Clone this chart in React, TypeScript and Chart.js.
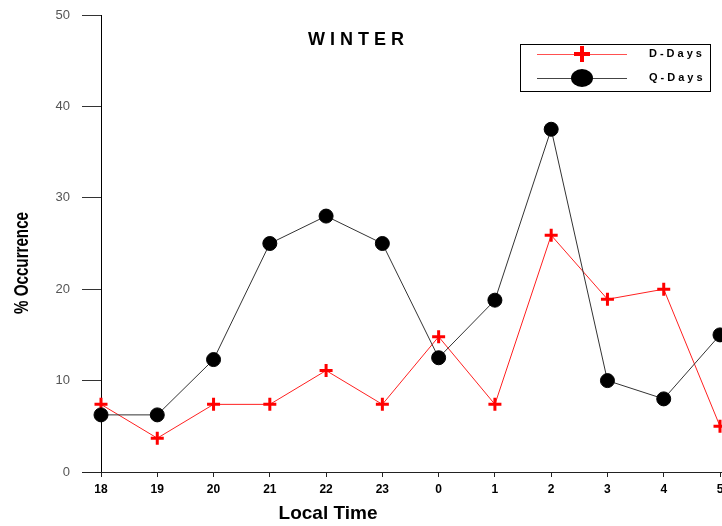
import React, { useEffect, useRef } from "react";
import { Chart, registerables } from "chart.js";

Chart.register(...registerables);

const categories = ["18", "19", "20", "21", "22", "23", "0", "1", "2", "3", "4", "5"];
const dDays = [7.4, 3.7, 7.4, 7.4, 11.1, 7.4, 14.8, 7.4, 25.9, 18.9, 20, 5];
const qDays = [6.25, 6.25, 12.3, 25, 28, 25, 12.5, 18.8, 37.5, 10, 8, 15];
const yTicks = [0, 10, 20, 30, 40, 50];
const titleText = "WINTER";
const xTitle = "Local Time";
const yTitle = "% Occurrence";
const legendLabels = ["D-Days", "Q-Days"];

const FONT = '"Liberation Sans", Arial, sans-serif';

const decorPlugin = {
  id: "decor",
  afterDraw(chart: any) {
    const ctx = chart.ctx as CanvasRenderingContext2D;
    const area = chart.chartArea;
    const ys = chart.scales.y;
    ctx.save();
    // extended x-axis line
    ctx.strokeStyle = "#222";
    ctx.lineWidth = 1;
    const y0 = Math.round(ys.getPixelForValue(0)) + 0.5;
    ctx.beginPath();
    ctx.moveTo(area.left - 19, y0);
    ctx.lineTo(chart.width, y0);
    ctx.stroke();

    // title
    ctx.fillStyle = "#000";
    ctx.font = `bold 18px ${FONT}`;
    (ctx as any).letterSpacing = "5px";
    ctx.textAlign = "left";
    ctx.textBaseline = "middle";
    const tw = ctx.measureText(titleText).width - 5;
    ctx.fillText(titleText, 356 - tw / 2, 40);
    (ctx as any).letterSpacing = "0px";

    // x title
    ctx.font = `bold 19px ${FONT}`;
    ctx.textAlign = "center";
    ctx.fillText(xTitle, 328, 514);

    // y title (condensed)
    ctx.save();
    ctx.translate(22, 263);
    ctx.rotate(-Math.PI / 2);
    ctx.font = `bold 21px ${FONT}`;
    const w = ctx.measureText(yTitle).width;
    ctx.scale(102 / w, 1);
    ctx.textAlign = "center";
    ctx.fillText(yTitle, 0, 0);
    ctx.restore();

    // legend
    const bx = 520.5, by = 44.5, bw = 190, bh = 47;
    ctx.fillStyle = "#fff";
    ctx.fillRect(bx, by, bw, bh);
    ctx.strokeStyle = "#000";
    ctx.lineWidth = 1;
    ctx.strokeRect(bx, by, bw, bh);
    const r1 = 54, r2 = 78, lx1 = 537, lx2 = 627, mx = 582;
    ctx.strokeStyle = "#ff5050";
    ctx.beginPath();
    ctx.moveTo(lx1, r1 + 0.5);
    ctx.lineTo(lx2, r1 + 0.5);
    ctx.stroke();
    ctx.strokeStyle = "#ff0000";
    ctx.lineWidth = 4;
    ctx.beginPath();
    ctx.moveTo(mx - 8, r1);
    ctx.lineTo(mx + 8, r1);
    ctx.moveTo(mx, r1 - 8);
    ctx.lineTo(mx, r1 + 8);
    ctx.stroke();
    ctx.lineWidth = 1;
    ctx.strokeStyle = "#444";
    ctx.beginPath();
    ctx.moveTo(lx1, r2 + 0.5);
    ctx.lineTo(lx2, r2 + 0.5);
    ctx.stroke();
    ctx.fillStyle = "#000";
    ctx.beginPath();
    ctx.ellipse(mx, r2, 11, 9, 0, 0, Math.PI * 2);
    ctx.fill();
    ctx.font = `bold 11px ${FONT}`;
    (ctx as any).letterSpacing = "3px";
    ctx.textAlign = "left";
    ctx.fillText(legendLabels[0], 649, r1);
    ctx.fillText(legendLabels[1], 649, r2);
    (ctx as any).letterSpacing = "0px";
    ctx.restore();
  },
};

export default function App() {
  const ref = useRef<HTMLCanvasElement>(null);
  useEffect(() => {
    if (!ref.current) return;
    const chart = new Chart(ref.current, {
      type: "line",
      data: {
        labels: categories,
        datasets: [
          {
            label: legendLabels[1],
            data: qDays,
            borderColor: "#333",
            borderWidth: 1,
            pointStyle: "circle",
            pointRadius: 7,
            pointBackgroundColor: "#000",
            pointBorderColor: "#000",
            pointBorderWidth: 1,
            clip: false,
            tension: 0,
          },
          {
            label: legendLabels[0],
            data: dDays,
            borderColor: "#ff2020",
            borderWidth: 1,
            pointStyle: "cross",
            pointRadius: 6.5,
            pointBorderColor: "#ff0000",
            pointBorderWidth: 3,
            clip: false,
            tension: 0,
          },
        ],
      },
      options: {
        responsive: false,
        animation: false,
        layout: { autoPadding: false, padding: { left: 0, top: 15, right: 2, bottom: 0 } },
        plugins: { legend: { display: false }, tooltip: { enabled: false }, title: { display: false } },
        scales: {
          x: {
            type: "category",
            offset: false,
            grid: { display: true, drawOnChartArea: false, drawTicks: true, tickLength: 5, color: "#222" },
            border: { display: true, color: "#222", width: 1 },
            ticks: {
              color: "#000",
              font: { family: FONT, size: 12, weight: "bold" },
              padding: 5,
              maxRotation: 0,
              autoSkip: false,
            },
            afterFit: (s: any) => {
              s.height = 54;
              s.paddingLeft = 0;
              s.paddingRight = 0;
            },
          },
          y: {
            min: 0,
            max: 50,
            afterBuildTicks: (s: any) => {
              s.ticks = yTicks.map((v) => ({ value: v }));
            },
            grid: { display: true, drawOnChartArea: false, drawTicks: true, tickLength: 19, color: "#333" },
            border: { display: true, color: "#000", width: 1 },
            ticks: {
              color: "#555",
              font: { family: FONT, size: 13 },
              padding: 12,
            },
            afterFit: (s: any) => {
              s.width = 101;
              s.paddingTop = 0;
              s.paddingBottom = 0;
            },
          },
        },
      },
      plugins: [decorPlugin],
    });
    return () => chart.destroy();
  }, []);
  return (
    <div style={{ position: "fixed", left: 0, top: 0, width: 722, height: 526, background: "#fff" }}>
      <canvas ref={ref} width={722} height={526} style={{ display: "block" }} />
    </div>
  );
}
